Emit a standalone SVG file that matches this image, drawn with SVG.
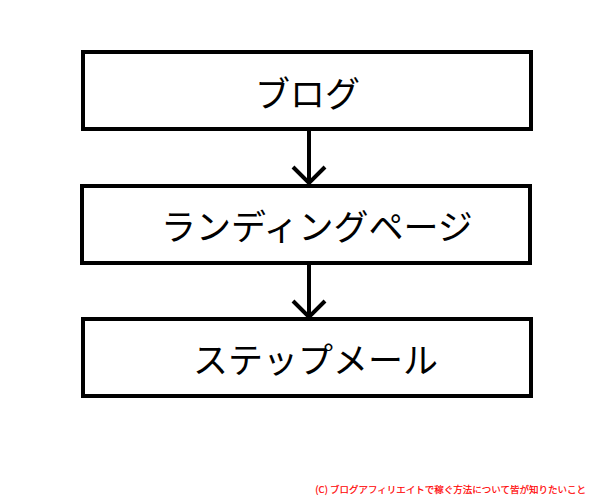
<svg xmlns="http://www.w3.org/2000/svg" width="600" height="500" viewBox="0 0 600 500">
<defs>
<style>
.box{fill:#fff;stroke:#000;stroke-width:4}
.lbl{font-family:"Noto Sans CJK JP","Noto Sans",sans-serif;font-size:35px;fill:#000;dominant-baseline:central}
.conn{stroke:#000;stroke-width:4;fill:none}
.foot{font-family:"Noto Sans CJK JP","Noto Sans",sans-serif;font-size:9.5px;fill:#ff0000;stroke:#ff0000;stroke-width:0.2}
</style>
</defs>
<rect width="600" height="500" fill="#fff"/>
<g id="node-blog">
<rect class="box" x="83" y="52" width="448" height="77"/>
<text class="lbl" x="255" y="91">ブログ</text>
</g>
<g id="node-lp">
<rect class="box" x="82" y="186" width="448" height="77"/>
<text class="lbl" x="161" y="224">ランディングページ</text>
</g>
<g id="node-step">
<rect class="box" x="83" y="319" width="448" height="77"/>
<text class="lbl" x="193" y="357">ステップメール</text>
</g>
<g id="connectors">
<path class="conn" d="M309 131 V183 M293 167 L309 183 L325 167"/>
<path class="conn" d="M309 265 V317 M293 301 L309 317 L325 301"/>
</g>
<text class="foot" x="586" y="493" text-anchor="end">(C) ブログアフィリエイトで稼ぐ方法について皆が知りたいこと</text>
</svg>
